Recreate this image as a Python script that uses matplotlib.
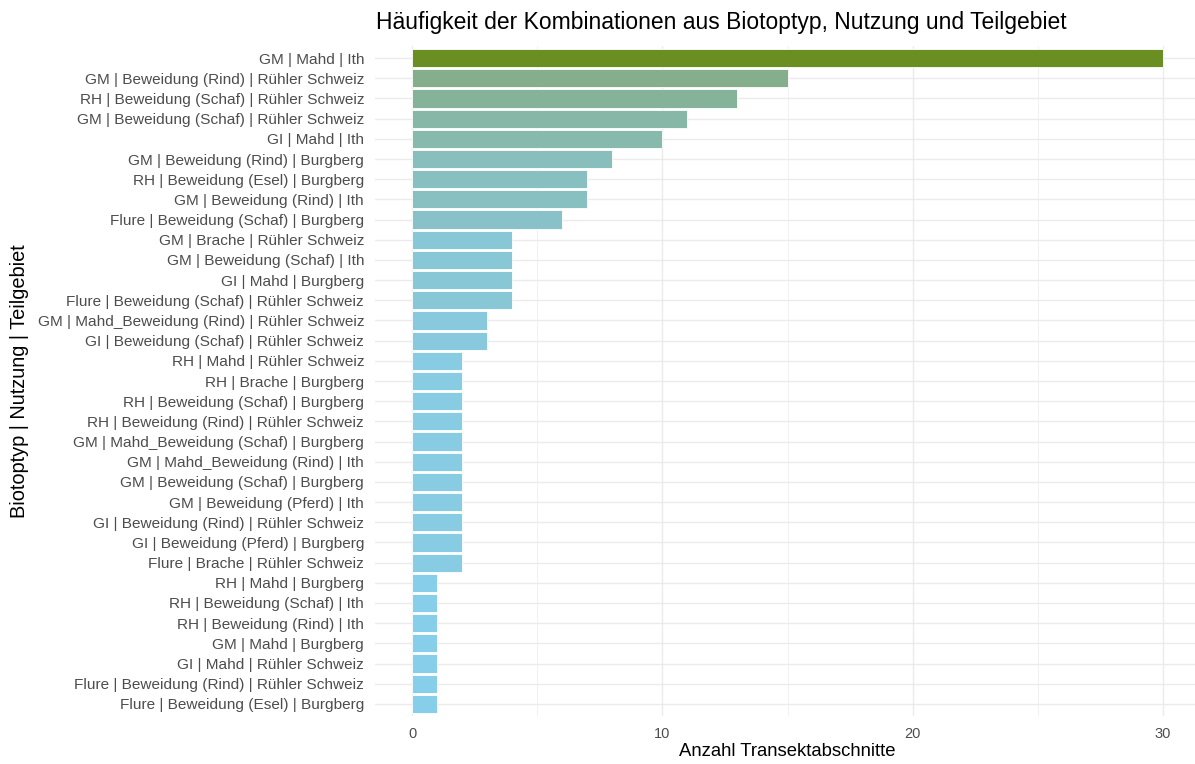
import numpy as np
import matplotlib
matplotlib.use("Agg")
import matplotlib.pyplot as plt
from matplotlib.colors import to_rgb

plt.rcParams['font.family'] = ['Liberation Sans', 'DejaVu Sans']

# DATA (top to bottom as shown)
labels = [
    "GM | Mahd | Ith",
    "GM | Beweidung (Rind) | Rühler Schweiz",
    "RH | Beweidung (Schaf) | Rühler Schweiz",
    "GM | Beweidung (Schaf) | Rühler Schweiz",
    "GI | Mahd | Ith",
    "GM | Beweidung (Rind) | Burgberg",
    "RH | Beweidung (Esel) | Burgberg",
    "GM | Beweidung (Rind) | Ith",
    "Flure | Beweidung (Schaf) | Burgberg",
    "GM | Brache | Rühler Schweiz",
    "GM | Beweidung (Schaf) | Ith",
    "GI | Mahd | Burgberg",
    "Flure | Beweidung (Schaf) | Rühler Schweiz",
    "GM | Mahd_Beweidung (Rind) | Rühler Schweiz",
    "GI | Beweidung (Schaf) | Rühler Schweiz",
    "RH | Mahd | Rühler Schweiz",
    "RH | Brache | Burgberg",
    "RH | Beweidung (Schaf) | Burgberg",
    "RH | Beweidung (Rind) | Rühler Schweiz",
    "GM | Mahd_Beweidung (Schaf) | Burgberg",
    "GM | Mahd_Beweidung (Rind) | Ith",
    "GM | Beweidung (Schaf) | Burgberg",
    "GM | Beweidung (Pferd) | Ith",
    "GI | Beweidung (Rind) | Rühler Schweiz",
    "GI | Beweidung (Pferd) | Burgberg",
    "Flure | Brache | Rühler Schweiz",
    "RH | Mahd | Burgberg",
    "RH | Beweidung (Schaf) | Ith",
    "RH | Beweidung (Rind) | Ith",
    "GM | Mahd | Burgberg",
    "GI | Mahd | Rühler Schweiz",
    "Flure | Beweidung (Rind) | Rühler Schweiz",
    "Flure | Beweidung (Esel) | Burgberg",
]
counts = [30, 15, 13, 11, 10, 8, 7, 7, 6, 4, 4, 4, 4, 3, 3,
          2, 2, 2, 2, 2, 2, 2, 2, 2, 2, 2, 1, 1, 1, 1, 1, 1, 1]
xticks = [0, 10, 20, 30]

low_col = "skyblue"
high_col = "olivedrab"


# colour gradient in Lab space, like ggplot's scale_fill_gradient
def srgb_to_lab(c):
    c = np.array(c, dtype=float)
    lin = np.where(c <= 0.04045, c / 12.92, ((c + 0.055) / 1.055) ** 2.4)
    M = np.array([[0.4124, 0.3576, 0.1805],
                  [0.2126, 0.7152, 0.0722],
                  [0.0193, 0.1192, 0.9505]])
    xyz = M @ lin / np.array([0.95047, 1.0, 1.08883])
    f = np.where(xyz > 0.008856, np.cbrt(xyz), 7.787 * xyz + 16 / 116)
    return np.array([116 * f[1] - 16, 500 * (f[0] - f[1]), 200 * (f[1] - f[2])])


def lab_to_srgb(lab):
    L, a, b = lab
    fy = (L + 16) / 116
    fx = fy + a / 500
    fz = fy - b / 200
    f = np.array([fx, fy, fz])
    xyz = np.where(f ** 3 > 0.008856, f ** 3, (f - 16 / 116) / 7.787)
    xyz = xyz * np.array([0.95047, 1.0, 1.08883])
    Minv = np.array([[3.2406, -1.5372, -0.4986],
                     [-0.9689, 1.8758, 0.0415],
                     [0.0557, -0.2040, 1.0570]])
    lin = Minv @ xyz
    c = np.where(lin <= 0.0031308, 12.92 * lin, 1.055 * np.clip(lin, 0, None) ** (1 / 2.4) - 0.055)
    return np.clip(c, 0, 1)


lab_lo = srgb_to_lab(to_rgb(low_col))
lab_hi = srgb_to_lab(to_rgb(high_col))
cmin, cmax = min(counts), max(counts)
colors = [lab_to_srgb(lab_lo + (v - cmin) / (cmax - cmin) * (lab_hi - lab_lo)) for v in counts]

fig = plt.figure(figsize=(11.95, 7.64), dpi=100)
W, H = 1195, 764
ax = fig.add_axes([374.5 / W, 1 - 716 / H, 826 / W, (716 - 46) / H])

y = np.arange(len(labels))
ax.barh(y, counts, height=0.9, color=colors, edgecolor="white", linewidth=0.6, zorder=3)

ax.set_xlim(-1.5, 31.5)
ax.set_ylim(len(labels) - 0.4, -0.6)
ax.set_yticks(y)
ax.set_yticklabels(labels)
ax.set_xticks(xticks)
ax.set_xticks([5, 15, 25], minor=True)

for s in ax.spines.values():
    s.set_visible(False)
ax.tick_params(axis="y", which="both", length=0, labelsize=11.1, labelcolor="#4D4D4D", pad=7.5)
ax.tick_params(axis="x", which="both", length=0, labelsize=10.5, labelcolor="#4D4D4D", pad=8)
ax.grid(True, which="major", color="#EBEBEB", linewidth=1.0, zorder=0)
ax.grid(True, which="minor", axis="x", color="#EBEBEB", linewidth=0.5, zorder=0)
ax.set_axisbelow(True)

ax.set_xlabel("Anzahl Transektabschnitte", fontsize=13.3, color="black")
ax.xaxis.set_label_coords(0.5, (716 - 752) / 670)
ax.xaxis.label.set_verticalalignment("center")
ax.set_ylabel("Biotoptyp | Nutzung | Teilgebiet", fontsize=14.4, color="black")
ax.yaxis.set_label_coords((20 - 374.5) / 826, 0.5)
ax.yaxis.label.set_verticalalignment("center")
fig.text(376 / W, 1 - 22 / H, "Häufigkeit der Kombinationen aus Biotoptyp, Nutzung und Teilgebiet",
         fontsize=16.5, ha="left", va="center", color="black")

fig.savefig("out.png", dpi=100)
